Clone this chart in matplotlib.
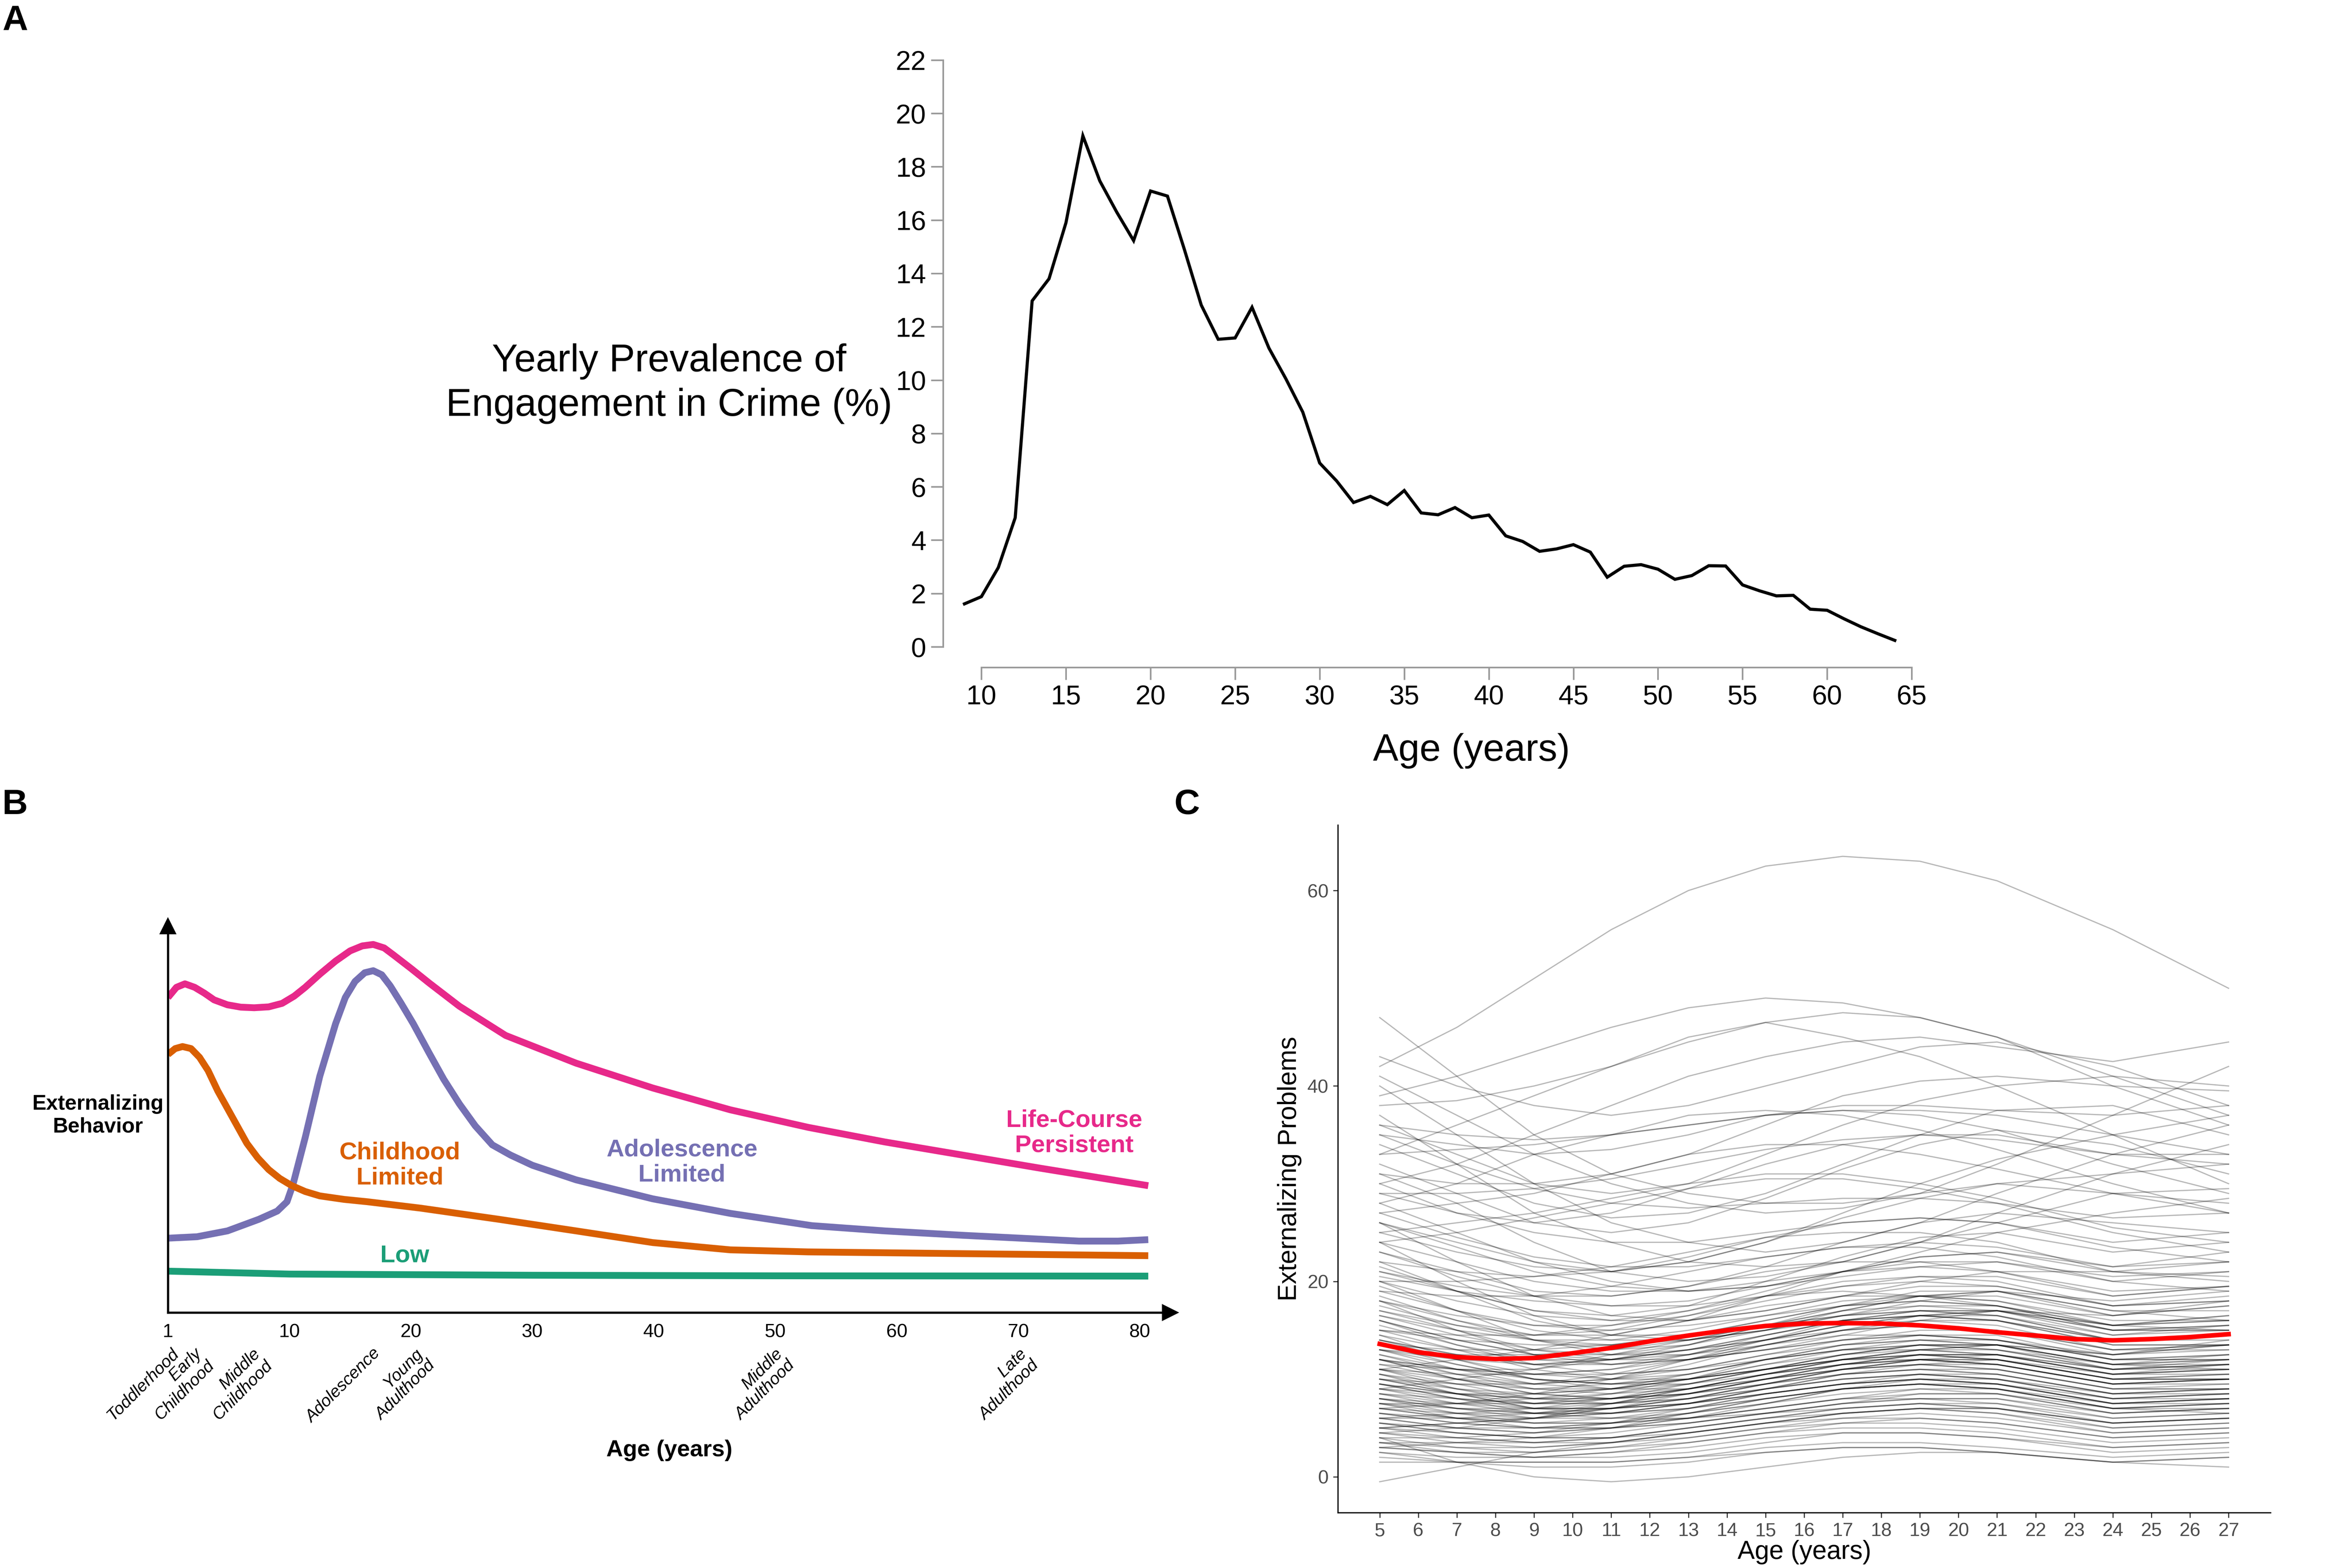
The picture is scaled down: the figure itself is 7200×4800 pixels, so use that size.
import numpy as np
import matplotlib
matplotlib.use("Agg")
import matplotlib.pyplot as plt
import matplotlib.transforms as mtrans

plt.rcParams['font.family'] = ['Liberation Sans', 'DejaVu Sans']

# ---- panel A: yearly prevalence of crime by age
crime_age = list(range(9, 65))
crime_pct = [1.61, 1.88, 2.97, 4.84, 12.97, 13.8, 15.9, 19.16, 17.47, 16.3,
             15.23, 17.09, 16.9, 14.9, 12.81, 11.53, 11.58, 12.73, 11.2, 10.05,
             8.8, 6.89, 6.22, 5.41, 5.64, 5.33, 5.86, 5.02, 4.95, 5.22,
             4.84, 4.94, 4.16, 3.95, 3.58, 3.67, 3.83, 3.55, 2.61, 3.02,
             3.08, 2.91, 2.53, 2.67, 3.04, 3.03, 2.32, 2.10, 1.91, 1.93,
             1.41, 1.37, 1.05, 0.75, 0.49, 0.24]

# ---- panel B: schematic developmental trajectories
lcp_age = [0, 0.7, 1.4, 2.2, 3.0, 3.8, 4.9, 6.0, 7.1, 8.3, 9.4, 10.4, 11.3, 12.5,
           13.8, 15.0, 16.0, 16.9, 17.8, 18.6, 20.0, 21.5, 24.0, 27.8, 33.6,
           39.9, 46.3, 52.7, 59.0, 65.4, 71.8, 80.7]
lcp_val = [10.8, 11.15, 11.27, 11.15, 10.95, 10.72, 10.55, 10.47, 10.45, 10.48,
           10.6, 10.85, 11.15, 11.6, 12.05, 12.4, 12.57, 12.62, 12.5, 12.25,
           11.8, 11.3, 10.5, 9.5, 8.55, 7.7, 6.95, 6.35, 5.85, 5.4, 4.95, 4.35]

al_age = [0, 2.4, 4.9, 7.5, 9.0, 9.8, 10.3, 10.8, 11.3, 12.5, 13.8, 14.6, 15.4,
          16.2, 16.9, 17.6, 18.3, 19.2, 20.2, 21.5, 22.7, 24.0, 25.3, 26.7,
          28.2, 30.0, 33.6, 39.9, 46.3, 53.0, 59.0, 65.4, 75.0, 78.2, 80.7]
al_val = [2.55, 2.6, 2.8, 3.2, 3.48, 3.8, 4.4, 5.2, 6.0, 8.1, 9.9, 10.8, 11.35,
          11.65, 11.72, 11.58, 11.2, 10.6, 9.9, 8.9, 8.0, 7.15, 6.4, 5.75,
          5.4, 5.05, 4.55, 3.9, 3.4, 2.98, 2.8, 2.65, 2.45, 2.45, 2.5]

cl_age = [0, 0.6, 1.2, 1.9, 2.6, 3.3, 4.1, 4.9, 5.7, 6.5, 7.4, 8.3, 9.2, 10.2,
          11.3, 12.5, 14.5, 16.4, 20.8, 27.2, 33.6, 39.9, 46.3, 52.7, 65.4, 80.7]
cl_val = [8.85, 9.05, 9.12, 9.05, 8.75, 8.3, 7.6, 7.0, 6.4, 5.8, 5.3, 4.9, 4.6,
          4.35, 4.15, 4.0, 3.88, 3.8, 3.58, 3.2, 2.8, 2.4, 2.15, 2.08, 2.02, 1.95]

low_age = [0, 10, 30, 50, 80.7]
low_val = [1.42, 1.32, 1.28, 1.26, 1.25]

b_ticks = [0, 10, 20, 30, 40, 50, 60, 70, 80]
b_ticklabels = ['1', '10', '20', '30', '40', '50', '60', '70', '80']
stage_labels = ['Toddlerhood', 'Early\nChildhood', 'Middle\nChildhood', 'Adolescence',
                'Young\nAdulthood', 'Middle\nAdulthood', 'Late\nAdulthood']
stage_ages = [0.2, 2.1, 6.9, 16.8, 20.3, 49.9, 70.0]

# ---- panel C: individual trajectories of externalizing problems
traj_ages = [5, 7, 9, 11, 13, 15, 17, 19, 21, 24, 27]
trajectories = [
    [42, 46, 51, 56, 60, 62.5, 63.5, 63, 61, 56, 50],
    [47, 41, 35, 31, 29, 28, 28, 29, 30, 31, 32],
    [39, 41, 43.5, 46, 48, 49, 48.5, 47, 45, 41, 37],
    [33, 36, 39, 42, 45, 46.5, 47.5, 47, 45, 40, 36],
    [38, 38.5, 40, 42, 44.5, 46.5, 45, 43, 40, 35, 30],
    [43, 40, 38, 37, 38, 40, 42, 44, 44.5, 42, 38],
    [30, 32, 35, 38, 41, 43, 44.5, 45, 44, 42.5, 44.5],
    [41, 37, 33, 30, 28, 27, 27.5, 29, 32, 37, 42],
    [36, 33, 30, 29, 30, 33, 36, 38.5, 40, 41, 40],
    [35, 34, 33, 33.5, 35, 37, 38, 38, 37.5, 37, 38],
    [40, 35, 30, 26, 24, 23, 24, 26, 29, 33, 36],
    [31, 30, 30, 31, 33, 36, 39, 40.5, 41, 40, 39.5],
    [34, 31, 28, 26.5, 27, 29, 32, 35, 37.5, 38, 35],
    [28, 30, 33, 35, 37, 37.5, 37, 35.5, 33.5, 30, 27],
    [37, 32, 27, 24, 22, 21.5, 22, 24, 27, 31, 34],
    [32, 29, 26, 25, 26, 28.5, 31.5, 34, 35.5, 34, 31],
    [29, 27, 26, 27, 29.5, 32, 34, 35, 35, 33, 32],
    [27, 28, 29, 31, 33, 34, 34, 33, 31.5, 29, 28],
    [26, 24, 22, 21, 22, 24, 27, 30, 32.5, 35, 37],
    [31, 28, 24, 21, 20, 20.5, 22, 24, 26, 29, 29.5],
    [25, 23, 21.5, 21, 22, 24, 26.5, 28.5, 30, 29, 27],
    [24, 25, 26.5, 28, 29.5, 30.5, 30.5, 29.5, 28, 25, 23],
    [28, 25, 22, 20, 19, 19.5, 21, 23, 25, 27, 28.5],
    [23, 21, 19, 18.5, 19.5, 21.5, 24, 26, 27, 26, 25],
    [22, 21, 20.5, 21, 22.5, 24.5, 26, 26.5, 26, 23.5, 22],
    [21, 19, 17, 16.5, 17.5, 20, 22.5, 24.5, 25, 23, 24],
    [20, 18, 16.5, 16, 17, 19, 21, 22.5, 23, 21, 20.5],
    [26, 22, 18.5, 16.5, 16, 17, 18.5, 20, 21, 21, 22],
    [19, 18.5, 18.5, 19.5, 21, 22.5, 23.5, 23.5, 22.5, 20, 19],
    [18, 16, 14.5, 14.5, 16, 18.5, 21, 22.5, 23, 21.5, 23],
    [24, 20, 16.5, 14.5, 14, 15, 16.5, 18, 19, 18, 19],
    [17, 15.5, 14.5, 15, 16.5, 18.5, 20, 20.5, 20, 17.5, 18],
    [22, 19, 16, 14.5, 14.5, 15.5, 17, 18.5, 19, 17, 16],
    [16, 14, 12.5, 12.5, 13.5, 15.5, 17.5, 19, 19, 16.5, 17.5],
    [15, 14.5, 14.5, 15.5, 17, 18.5, 19, 18.5, 17.5, 15, 15],
    [20, 17, 14, 12.5, 12.5, 13.5, 15, 16.5, 17, 15.5, 16],
    [14, 12.5, 11.5, 12, 13.5, 15.5, 17, 17.5, 17, 14.5, 15],
    [18, 15, 12.5, 11.5, 12, 13.5, 15, 16, 16, 14, 14.5],
    [13, 12, 11.5, 12, 13, 14.5, 16, 16.5, 16, 13.5, 13.5],
    [16, 13.5, 11.5, 10.5, 11, 12.5, 14, 15, 15, 13, 13.5],
    [12, 10.5, 9.5, 10, 11.5, 13.5, 15, 15.5, 15, 12.5, 13],
    [14, 12, 10.5, 10, 10.5, 12, 13.5, 14.5, 14.5, 12, 12],
    [11, 10, 9.5, 10, 11, 12.5, 13.5, 14, 13.5, 11.5, 12],
    [13, 11, 9.5, 9, 9.5, 11, 12.5, 13.5, 13.5, 11.5, 11.5],
    [10, 9, 8.5, 9, 10, 11.5, 12.5, 13, 12.5, 10.5, 11],
    [12, 10, 8.5, 8, 8.5, 10, 11.5, 12.5, 12.5, 10.5, 10.5],
    [9.5, 8.5, 8, 8.5, 9.5, 11, 12, 12.5, 12, 10, 10],
    [11, 9, 7.5, 7.5, 8, 9.5, 11, 12, 12, 10, 10],
    [8.5, 8, 7.5, 8, 9, 10.5, 11.5, 12, 11.5, 9.5, 9.5],
    [10, 8.5, 7, 7, 7.5, 9, 10.5, 11, 11, 9, 9],
    [8, 7, 6.5, 7, 8, 9.5, 10.5, 11, 10.5, 8.5, 9],
    [9, 7.5, 6.5, 6.5, 7, 8.5, 9.5, 10.5, 10.5, 8.5, 8.5],
    [7.5, 6.5, 6, 6.5, 7.5, 8.5, 9.5, 10, 9.5, 7.5, 8],
    [8.5, 7, 6, 6, 6.5, 7.5, 9, 9.5, 9.5, 7.5, 7.5],
    [7, 6, 5.5, 6, 7, 8, 9, 9.5, 9, 7, 7.5],
    [6.5, 5.5, 5, 5.5, 6.5, 7.5, 8.5, 9, 8.5, 6.5, 7],
    [7.5, 6, 5, 5, 5.5, 6.5, 7.5, 8, 8, 6, 6.5],
    [6, 5, 4.5, 5, 6, 7, 8, 8, 7.5, 5.5, 6],
    [5.5, 4.5, 4, 4.5, 5.5, 6.5, 7, 7.5, 7, 5, 5.5],
    [5, 4, 3.5, 4, 5, 6, 6.5, 7, 6.5, 4.5, 5],
    [4.5, 3.5, 3, 3.5, 4.5, 5.5, 6, 6, 5.5, 4, 4.5],
    [4, 3, 2.5, 3, 4, 5, 5.5, 5.5, 5, 3.5, 4],
    [3.5, 2.5, 2, 2.5, 3.5, 4.5, 5, 5, 4.5, 3, 3.5],
    [3, 2.5, 2, 2, 2.5, 3.5, 4.5, 4.5, 4, 2.5, 3],
    [2, 1.5, 1.5, 1.5, 2, 3, 3.5, 3.5, 3, 2, 2.5],
    [-0.5, 1, 2.5, 3.5, 4.5, 5.5, 6.5, 7, 7, 5.5, 6],
    [1.5, 1.5, 1.5, 1.5, 2, 2.5, 3, 3, 2.5, 1.5, 2],
    [4, 1.5, 0, -0.5, 0, 1, 2, 2.5, 2.5, 1.5, 1],
    [2.5, 1.5, 1, 1, 1.5, 2.5, 3, 3, 2.5, 1.5, 2],
    [11, 12, 13, 14.5, 16, 17.5, 18.5, 18.5, 18, 15.5, 16],
    [9, 10, 11, 12.5, 14, 15.5, 16.5, 17, 16.5, 14, 14.5],
    [15, 13, 11, 10, 10, 11, 12, 13, 13.5, 12.5, 14],
    [17, 15, 13, 12, 12, 13, 14.5, 16, 17, 16.5, 18],
    [6, 6.5, 7, 8, 9.5, 11, 12.5, 13.5, 13.5, 11.5, 12],
    [5, 5.5, 6, 7, 8.5, 10, 11, 11.5, 11, 9, 9.5],
    [12.5, 10.5, 9, 8.5, 9, 10, 11, 11.5, 11.5, 9.5, 10],
    [8, 7.5, 7.5, 8.5, 10, 12, 13.5, 14, 13.5, 11, 11],
    [10.5, 9.5, 9, 9.5, 10.5, 12, 13, 13, 12.5, 10.5, 11.5],
    [14.5, 13, 12, 12, 13, 14.5, 16, 17, 17, 15, 15.5],
    [19, 17, 15.5, 15, 15.5, 16.5, 17.5, 18, 17.5, 15.5, 16.5],
    [21, 19.5, 18.5, 18.5, 19.5, 21, 22, 22, 21, 18.5, 19.5],
    [23, 20.5, 18.5, 17.5, 17.5, 18.5, 19.5, 20, 19.5, 17.5, 18.5],
    [27, 24.5, 22.5, 21.5, 21.5, 22.5, 23.5, 24, 23.5, 21.5, 22],
    [30, 27, 25, 24, 24, 25, 26, 26.5, 26, 24, 25],
    [35, 32, 29.5, 28, 27.5, 28, 28.5, 28.5, 28, 26.5, 27],
    [7, 7.5, 8.5, 10, 12, 14, 16, 17, 17, 15, 15.5],
    [4.5, 5, 6, 7.5, 9, 10.5, 11.5, 12, 11.5, 9.5, 10],
    [3, 3.5, 4, 5, 6.5, 8, 9, 9.5, 9, 7, 7.5],
    [13.5, 11.5, 10, 9.5, 10, 11, 12, 12.5, 12, 10, 10.5],
    [6.5, 6, 6, 6.5, 7.5, 9, 10, 10.5, 10, 8, 8.5],
    [9.5, 8, 7, 7, 7.5, 8.5, 9.5, 10, 9.5, 7.5, 8],
    [16.5, 14.5, 13, 12.5, 13, 14, 15.5, 16.5, 16.5, 14, 14],
    [18.5, 16, 14, 13, 13.5, 15, 17, 18.5, 19, 17, 17],
    [12, 11, 10.5, 11, 12.5, 14.5, 16, 16.5, 16, 13.5, 13.5],
    [20, 20, 20.5, 21.5, 23, 24.5, 25, 25, 24, 21, 20],
    [25, 26, 27, 28.5, 30, 31, 31, 30, 28.5, 25.5, 24],
    [29, 29, 29.5, 30.5, 32, 33.5, 34.5, 35, 34.5, 33, 33],
    [33, 33.5, 34, 35, 36, 37, 37.5, 37.5, 37, 35, 33],
    [36, 35, 34.5, 35, 36, 37, 37.5, 37, 35.5, 32, 29],
    [10.5, 8.5, 7, 6.5, 7, 8, 9, 9.5, 9, 7, 6.5],
    [15.5, 13.5, 12, 11.5, 12, 13, 14, 14.5, 14, 12, 12.5],
    [13, 12.5, 12.5, 13, 14, 15.5, 16.5, 17, 16.5, 14.5, 15.5],
    [11.5, 10, 9, 9, 10, 11.5, 13, 14, 14, 12.5, 13.5],
    [10, 9.5, 9.5, 10.5, 12, 13.5, 14.5, 14.5, 14, 12, 12.5],
    [9, 8, 7.5, 8, 9, 10.5, 12, 13, 13, 11.5, 12.5],
    [8, 7, 6.5, 6.5, 7.5, 9, 10.5, 11.5, 12, 10.5, 11],
    [12.5, 11, 10, 9.5, 10, 11, 12.5, 13.5, 13.5, 11.5, 11],
    [7, 6.5, 6.5, 7, 8, 9.5, 11, 12, 12, 10, 10.5],
    [6, 5, 4.5, 5, 6, 7.5, 9, 10, 10, 8.5, 9],
    [5.5, 5, 5, 5.5, 6.5, 8, 9, 9.5, 9, 7, 7],
    [11, 9.5, 8, 7.5, 8, 9, 10, 10.5, 10, 8, 8],
    [9.5, 8.5, 8, 8, 8.5, 9.5, 10.5, 11, 10.5, 8.5, 9],
    [14, 12.5, 11.5, 11.5, 12.5, 14, 15.5, 16, 15.5, 13, 13],
    [16, 14, 12.5, 12, 12.5, 14, 15.5, 16.5, 17, 15.5, 16.5],
    [12, 10, 8.5, 8, 8.5, 9.5, 11, 12, 12.5, 11, 12],
    [7.5, 7, 7, 7.5, 8.5, 10, 11, 11.5, 11, 9, 9],
    [4, 4, 4.5, 5.5, 7, 8.5, 9.5, 10, 9.5, 7.5, 8],
    [3.5, 3, 3, 3.5, 4.5, 5.5, 6.5, 7, 6.5, 5, 5.5],
    [5, 4.5, 4, 4, 4.5, 5.5, 6.5, 7, 7, 5.5, 6],
    [6.5, 5.5, 5, 5, 5.5, 6.5, 7.5, 8.5, 8.5, 7, 7.5],
    [8.5, 7.5, 7, 7, 7.5, 8.5, 9.5, 10, 9.5, 8, 8.5],
    [10.5, 9, 8, 8, 9, 10.5, 12, 12.5, 12, 10, 10],
    [13, 11.5, 10, 9.5, 9.5, 10.5, 12, 13, 13.5, 12.5, 13.5],
    [17.5, 15.5, 14, 13.5, 14, 15, 16, 16.5, 16, 14, 14.5],
    [19.5, 17, 15, 14, 14, 15, 16.5, 17.5, 17.5, 15.5, 15],
    [21.5, 19, 17, 16, 16, 17, 18.5, 19.5, 19.5, 17.5, 18],
    [11, 10.5, 10.5, 11, 12, 13, 14, 14.5, 14, 12, 12],
    [9, 8.5, 8.5, 9, 10, 11, 12, 12, 11.5, 9.5, 10],
    [7, 6, 5.5, 5.5, 6, 7, 8, 9, 9, 7.5, 8],
    [5.5, 4.5, 4, 4, 5, 6, 7, 7.5, 7.5, 6, 6.5],
    [4.5, 4, 3.5, 3.5, 4, 5, 6, 6.5, 6, 4.5, 5],
    [3, 2.5, 2.5, 3, 3.5, 4.5, 5.5, 6, 5.5, 4, 4.5],
    [2.5, 2, 2, 2.5, 3, 4, 4.5, 4.5, 4, 3, 3.5],
    [8, 6.5, 5.5, 5.5, 6, 7, 8, 8.5, 8.5, 6.5, 7],
    [12, 11, 10.5, 10.5, 11, 12, 13, 13.5, 13, 11, 11.5],
    [15, 14, 13.5, 13.5, 14.5, 16, 17.5, 18, 17.5, 15, 15],
    [10, 8.5, 7.5, 7.5, 8.5, 10, 11.5, 12.5, 12.5, 10.5, 11],
    [6, 6, 6.5, 7.5, 9, 10.5, 11.5, 12, 11.5, 9.5, 10],
    [9.5, 8, 6.5, 6, 6, 6.5, 7.5, 8, 8, 6.5, 7],
    [14.5, 12, 10, 9, 9, 10, 11.5, 12.5, 12.5, 11, 11.5],
    [7.5, 7.5, 8, 9, 10.5, 12, 13, 13.5, 13, 11, 11.5],
    [11.5, 11, 11, 12, 13, 14, 15, 15.5, 15, 13, 13.5],
    [13.5, 13, 13, 13.5, 14.5, 16, 17.5, 18.5, 18.5, 16.5, 17.5],
    [18, 16.5, 15.5, 15.5, 16.5, 18, 19.5, 20.5, 20.5, 18.5, 19.5],
    [16.5, 15, 14, 14, 15, 16.5, 18, 18.5, 18, 16, 16],
    [24, 22, 20, 19, 19, 20, 21, 21.5, 21, 19, 19.5],
    [26, 23.5, 21, 19.5, 19, 19.5, 20.5, 21.5, 22, 20.5, 21],
    [20.5, 19, 18, 17.5, 18, 19.5, 21, 22, 22, 20, 21],
    [5, 5.5, 6, 7, 8, 9, 10, 10.5, 10, 8, 8.5],
    [3.5, 3.5, 3.5, 4, 5, 6, 7, 7.5, 7, 5.5, 6],
]
mean_age = list(range(5, 28))
mean_val = [13.6, 12.75, 12.25, 12.06, 12.16, 12.65, 13.2, 13.87, 14.46, 15.0,
            15.44, 15.69, 15.74, 15.69, 15.5, 15.2, 14.8, 14.46, 14.1, 13.97,
            14.1, 14.3, 14.6]

fig = plt.figure(figsize=(24, 16), dpi=300)

# ================= A =================
axA = fig.add_axes([0.401, 0.5875, 0.4118, 0.3742])
axA.plot(crime_age, crime_pct, color='black', lw=2.3, solid_joinstyle='miter')
axA.set_xlim(7.74, 65)
axA.set_ylim(0, 22)
axA.set_xticks(range(10, 66, 5))
axA.set_yticks(range(0, 23, 2))
for s in ['top', 'right']:
    axA.spines[s].set_visible(False)
axA.spines['left'].set_bounds(0, 22)
axA.spines['bottom'].set_bounds(10, 65)
axA.spines['bottom'].set_position(('outward', 15))
for s in ['left', 'bottom']:
    axA.spines[s].set_color('#9a9a9a')
    axA.spines[s].set_linewidth(1.2)
axA.tick_params(colors='#9a9a9a', labelcolor='black', labelsize=20, length=9, width=1.2)
axA.set_xlabel('Age (years)', fontsize=28)
axA.xaxis.set_label_coords(0.5456, -0.147)
fig.text(0.2845, 0.7553, 'Yearly Prevalence of\nEngagement in Crime (%)',
         ha='center', va='center', fontsize=28.5, linespacing=1.3)

# ================= B =================
axB = fig.add_axes([0.0714, 0.1629, 0.4261, 0.2465])
axB.plot(lcp_age, lcp_val, color='#E7298A', lw=5, solid_capstyle='butt')
axB.plot(al_age, al_val, color='#7570B3', lw=5, solid_capstyle='butt')
axB.plot(cl_age, cl_val, color='#D95F02', lw=5, solid_capstyle='butt')
axB.plot(low_age, low_val, color='#1B9E77', lw=5, solid_capstyle='butt')
axB.set_xlim(0, 82.5)
axB.set_ylim(0, 13.25)
for s in ['top', 'right']:
    axB.spines[s].set_visible(False)
for s in ['left', 'bottom']:
    axB.spines[s].set_linewidth(1.6)
axB.plot(1, 0, '>k', ms=11, transform=axB.transAxes, clip_on=False)
axB.plot(0, 1, '^k', ms=11, transform=axB.transAxes, clip_on=False)
axB.set_yticks([])
axB.set_xticks(b_ticks)
axB.set_xticklabels(b_ticklabels)
axB.tick_params(axis='x', length=0, pad=8, labelsize=14)
trB = mtrans.blended_transform_factory(axB.transData, axB.transAxes)
for lab, a in zip(stage_labels, stage_ages):
    axB.text(a, -0.085, lab, transform=trB, rotation=45, rotation_mode='anchor',
             ha='right', va='top', fontsize=12.5, style='italic', linespacing=1.1)
axB.text(19.1, 5.05, 'Childhood\nLimited', color='#D95F02', fontsize=18,
         fontweight='bold', ha='center', va='center', linespacing=1.15)
axB.text(42.3, 5.15, 'Adolescence\nLimited', color='#7570B3', fontsize=18,
         fontweight='bold', ha='center', va='center', linespacing=1.15)
axB.text(74.6, 6.15, 'Life-Course\nPersistent', color='#E7298A', fontsize=18,
         fontweight='bold', ha='center', va='center', linespacing=1.15)
axB.text(19.5, 1.95, 'Low', color='#1B9E77', fontsize=18, fontweight='bold',
         ha='center', va='center')
fig.text(0.0417, 0.2885, 'Externalizing\nBehavior', ha='center', va='center',
         fontsize=15.5, fontweight='bold', linespacing=1.2)
fig.text(0.2846, 0.075, 'Age (years)', ha='center', va='center', fontsize=17,
         fontweight='bold')

# ================= C =================
axC = fig.add_axes([0.5689, 0.0352, 0.3965, 0.4386])
for row in trajectories:
    axC.plot(traj_ages, row, color='black', alpha=0.28, lw=0.9)
axC.plot(mean_age, mean_val, color='#FF0000', lw=3.4)
axC.set_xlim(3.92, 28.09)
axC.set_ylim(-3.68, 66.7)
axC.set_xticks(range(5, 28))
axC.set_yticks([0, 20, 40, 60])
for s in ['top', 'right']:
    axC.spines[s].set_visible(False)
for s in ['left', 'bottom']:
    axC.spines[s].set_linewidth(0.9)
axC.tick_params(colors='#333333', labelcolor='#4D4D4D', labelsize=14, length=3.5, width=0.8)
axC.set_xlabel('Age (years)', fontsize=19, labelpad=0)
axC.set_ylabel('Externalizing Problems', fontsize=19, labelpad=4)

# panel letters
fig.text(0.001, 0.997, 'A', fontsize=26, fontweight='bold', ha='left', va='top')
fig.text(0.001, 0.497, 'B', fontsize=26, fontweight='bold', ha='left', va='top')
fig.text(0.4993, 0.497, 'C', fontsize=26, fontweight='bold', ha='left', va='top')

fig.savefig('out.png', dpi=300)
